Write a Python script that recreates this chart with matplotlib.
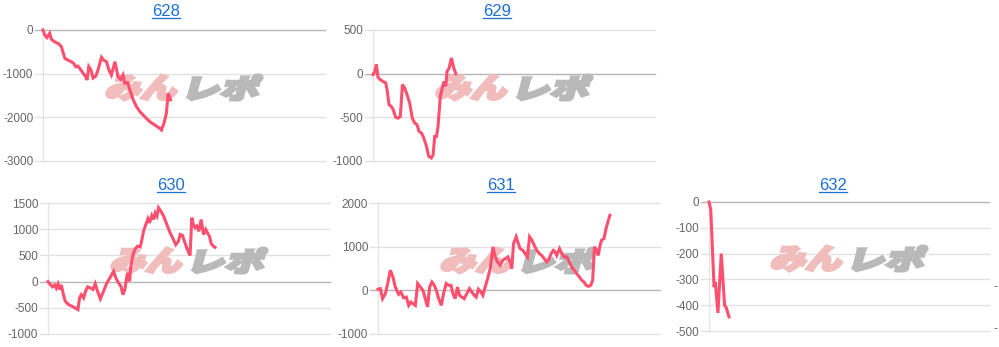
import numpy as np
import matplotlib
matplotlib.use("Agg")
import matplotlib.pyplot as plt
from matplotlib.textpath import TextPath
from matplotlib.font_manager import FontProperties
from matplotlib.patches import PathPatch
from matplotlib.transforms import Affine2D, IdentityTransform
from matplotlib.lines import Line2D

plt.rcParams["font.family"] = ["Liberation Sans", "DejaVu Sans"]

# games played (x) and difference in medals (y) for each machine
x628 = [0, 50, 110, 190, 240, 330, 450, 520, 620, 710, 800, 870, 930, 990, 1060, 1140,
        1210, 1250, 1300, 1360, 1420, 1500, 1560, 1660, 1720, 1800, 1870, 1940, 2040, 2130,
        2200, 2270, 2320, 2400, 2480, 2560, 2650, 2750, 2840, 2930, 3030, 3170, 3310, 3360,
        3430, 3500, 3550, 3620]
y628 = [0, -115, -175, -75, -215, -270, -320, -380, -650, -690, -725, -765, -840, -825,
        -900, -990, -1070, -1145, -840, -915, -1100, -1055, -915, -625, -690, -725, -915,
        -1030, -725, -1070, -1130, -1030, -1220, -1205, -1410, -1600, -1755, -1870, -1945,
        -2020, -2100, -2175, -2250, -2290, -2140, -1910, -1450, -1600]

x629 = [0, 50, 95, 140, 210, 285, 360, 400, 455, 520, 570, 645, 710, 775, 835, 900, 965,
        1040, 1115, 1185, 1250, 1305, 1375, 1440, 1515, 1580, 1655, 1705, 1750, 1800, 1845,
        1910, 1970, 2015, 2065, 2100, 2160, 2225, 2290, 2350]
y629 = [-10, 25, 105, -40, -70, -90, -105, -185, -355, -375, -410, -500, -510, -490, -125,
        -165, -240, -335, -510, -565, -585, -660, -680, -735, -830, -945, -965, -930, -720,
        -720, -605, -260, -155, -90, -145, 25, 65, 180, 65, 0]

x630 = [0, 65, 130, 190, 235, 285, 330, 380, 425, 490, 585, 680, 775, 850, 895, 945, 1010,
        1065, 1125, 1200, 1275, 1340, 1405, 1485, 1575, 1670, 1765, 1860, 1925, 2000, 2070,
        2125, 2180, 2255, 2315, 2350, 2410, 2475, 2540, 2615, 2665, 2710, 2775, 2835, 2880,
        2945, 2995, 3040, 3090, 3135, 3200, 3280, 3370, 3465, 3560, 3625, 3700, 3750, 3815,
        3870, 3935, 3995, 4030, 4080, 4125, 4175, 4220, 4280, 4345, 4410, 4475, 4525, 4580,
        4630, 4695, 4740]
y630 = [0, -55, -100, -65, -125, -45, -150, -65, -215, -375, -440, -470, -505, -535, -310,
        -250, -310, -185, -100, -120, -150, -40, -185, -330, -185, -25, 80, 195, 70, -25,
        -90, -250, -150, 165, 5, 295, 515, 625, 675, 660, 800, 960, 1090, 1200, 1120, 1260,
        1185, 1310, 1250, 1410, 1345, 1250, 1090, 930, 800, 705, 770, 900, 880, 770, 645,
        550, 500, 1220, 1090, 1030, 1060, 960, 1185, 900, 995, 930, 865, 725, 675, 655]

x631 = [0, 65, 130, 210, 275, 350, 425, 490, 585, 650, 725, 805, 870, 935, 990, 1060, 1125,
        1200, 1275, 1340, 1405, 1465, 1530, 1595, 1655, 1720, 1795, 1860, 1935, 2000, 2070,
        2125, 2190, 2255, 2315, 2380, 2445, 2520, 2595, 2665, 2730, 2785, 2850, 2920, 2975,
        3040, 3110, 3185, 3260, 3325, 3390, 3465, 3540, 3610, 3685, 3750, 3795, 3845, 3920,
        3965, 4030, 4110, 4175, 4240, 4300, 4365, 4430, 4505, 4580, 4645, 4715, 4790, 4855,
        4910, 4975, 5025, 5070, 5150, 5215, 5280, 5355, 5430, 5495, 5565, 5640, 5715, 5780,
        5845, 5905, 5970, 6035, 6090, 6140, 6205, 6250, 6300, 6345, 6410, 6470, 6535, 6580]
y631 = [25, 40, -190, -75, 155, 460, 305, 75, -90, -40, -170, -155, -345, -270, -305, -345,
        155, 75, 0, -190, -380, 75, 190, 115, 0, -190, -345, -75, 155, 115, 115, -75, -190,
        75, -115, -155, -190, -75, 40, -40, -115, -155, 25, -40, -115, 75, 270, 500, 995,
        765, 650, 575, 690, 725, 765, 650, 500, 1070, 1225, 1110, 955, 915, 840, 765, 1225,
        1150, 1035, 915, 840, 800, 725, 650, 725, 840, 915, 880, 800, 955, 840, 765, 765,
        650, 535, 460, 380, 305, 230, 190, 115, 90, 115, 230, 995, 915, 800, 1035, 1150,
        1185, 1415, 1605, 1720]

x632 = [0, 50, 145, 180, 255, 350, 445, 495, 570]
y632 = [0, -30, -330, -310, -430, -200, -400, -410, -445]

titles = ["628", "629", "630", "631", "632"]
series = [(x628, y628), (x629, y629), (x630, y630), (x631, y631), (x632, y632)]
yticks = [[-3000, -2000, -1000, 0],
          [-1000, -500, 0, 500],
          [-1000, -500, 0, 500, 1000, 1500],
          [-1000, 0, 1000, 2000],
          [-500, -400, -300, -200, -100, 0]]
x_max = 8000

W, H = 999, 347
LINE = "#ff4f6e"
TITLE = "#1a6fd6"

# axes boxes in pixels: left, top, width, height
boxes = [(43, 30, 282, 131), (373, 30, 282, 131), (48, 203, 282, 131),
         (378, 203, 282, 131), (709, 202, 280, 129)]
title_pos = [(166, 11), (497, 11), (171, 185), (501, 185), (833, 185)]

fig = plt.figure(figsize=(W / 100, H / 100), dpi=100)
fp_logo = FontProperties(family="Noto Sans CJK JP", weight="heavy")


def add_logo(ax, left, top, width, height):
    cx = left + width / 2
    cy = H - (top + height / 2) + 8
    h = 25
    for text, color, x0, x1 in [("みん", "#f0bcbc", cx - 79, cx - 3),
                                ("レポ", "#b9b9b9", cx + 3, cx + 79)]:
        path = TextPath((0, 0), text, size=100, prop=fp_logo)
        ext = path.get_extents()
        w = (x1 - x0) - 0.27 * h
        tr = (Affine2D().translate(-ext.x0, -ext.y0)
              .scale(w / ext.width, h / ext.height)
              .translate(-w / 2, -h / 2)
              .skew_deg(15, 0)
              .translate((x0 + x1) / 2, cy))
        patch = PathPatch(path, transform=tr, facecolor=color, edgecolor=color,
                          lw=2.2, joinstyle="miter", zorder=1, clip_on=False)
        ax.add_artist(patch)


for (xs, ys), ticks, (l, t, w, h) in zip(series, yticks, boxes):
    ax = fig.add_axes([l / W, 1 - (t + h) / H, w / W, h / H])
    for s in ["top", "right", "bottom"]:
        ax.spines[s].set_visible(False)
    ax.spines["left"].set_color("#e4e4e4")
    ax.spines["left"].set_linewidth(1)
    for v in ticks:
        ax.axhline(v, xmin=-0.03, xmax=1, color="#b5b5b5" if v == 0 else "#e2e2e2",
                   lw=1, clip_on=False, zorder=0.5)
    add_logo(ax, l, t, w, h)
    ax.plot(xs, ys, color=LINE, lw=2.2, clip_on=False, zorder=3, solid_joinstyle="miter")
    ax.set_xlim(0, x_max)
    ax.set_ylim(ticks[0], ticks[-1])
    ax.set_xticks([])
    ax.set_yticks(ticks)
    ax.set_yticklabels([str(v) for v in ticks])
    ax.tick_params(axis="y", length=0, pad=7, labelsize=8.5, labelcolor="#666666")
    ax.patch.set_alpha(0)

fig.canvas.draw()
renderer = fig.canvas.get_renderer()
for name, (tx, ty) in zip(titles, title_pos):
    txt = fig.text(tx / W, 1 - ty / H, name, ha="center", va="center",
                   fontsize=12, color=TITLE)
    bb = txt.get_window_extent(renderer)
    fig.add_artist(Line2D([bb.x0, bb.x1], [bb.y0 + 1, bb.y0 + 1], color=TITLE, lw=0.9,
                          transform=IdentityTransform()))

# fragments of the next chart's labels at the right edge
for yy in [287, 329]:
    fig.text(994 / W, 1 - yy / H, "-", fontsize=9, color="#666666", va="center")

fig.savefig("out.png", dpi=100)
